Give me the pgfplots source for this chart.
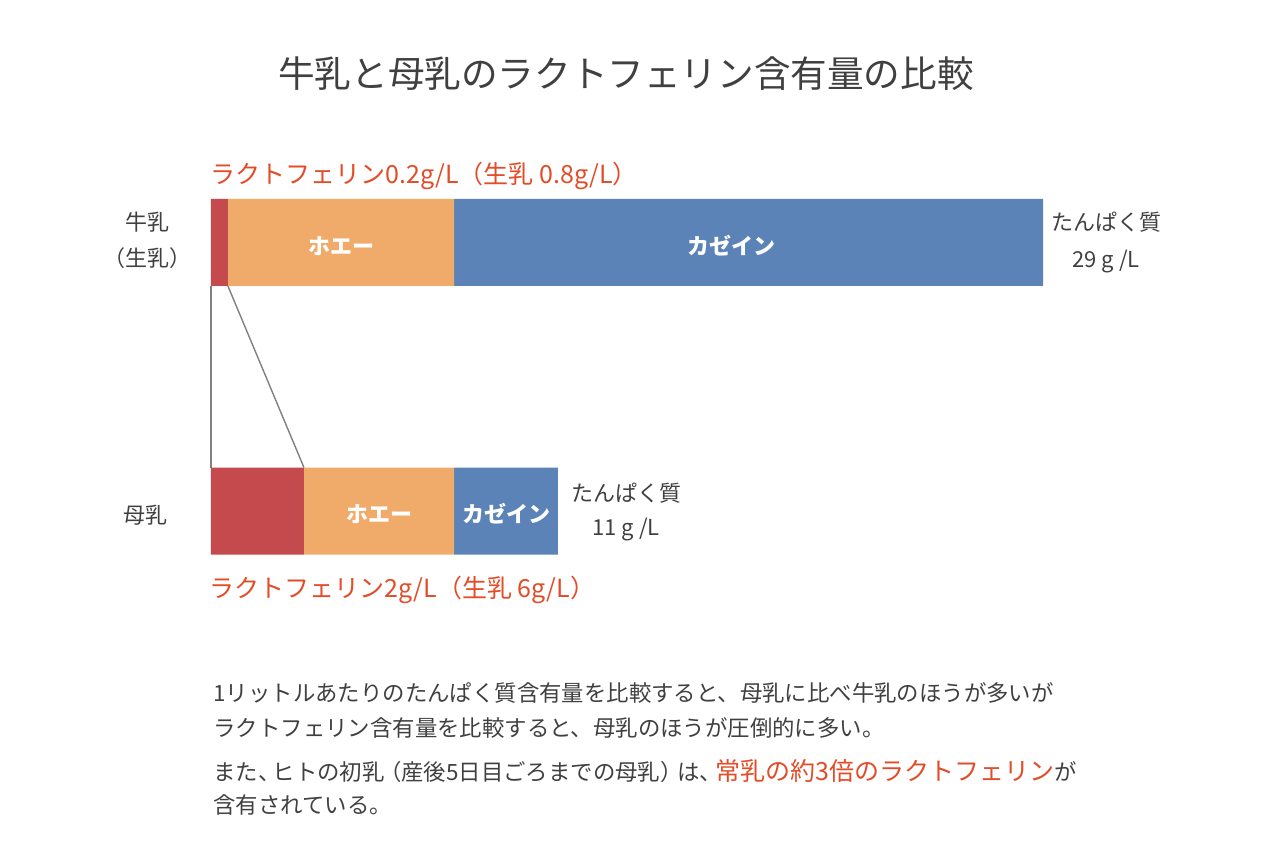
\documentclass[border=0pt]{standalone}
\usepackage{pgfplots}
\pgfplotsset{compat=1.18}
\usepackage{fontspec}
\setmainfont{Noto Sans CJK JP}
\definecolor{lfred}{RGB}{196,74,78}
\definecolor{whey}{RGB}{240,170,106}
\definecolor{casein}{RGB}{91,131,183}
\definecolor{txt}{RGB}{64,64,64}
\definecolor{hl}{RGB}{226,76,40}
\begin{document}
\begin{tikzpicture}
% page = 1280x860 px, 1 px = 0.5pt, axis origin at px (211,554)
\useasboundingbox (-105.5pt,-153pt) rectangle (534.5pt,277pt);
\begin{axis}[
  at={(0,0)}, anchor=south west,
  scale only axis, width=416pt, height=177.5pt,
  xmin=0, xmax=29, ymin=-0.162, ymax=1.160,
  y dir=reverse, hide axis, clip=false,
  xbar stacked, bar width=43.5pt,
]
\addplot[fill=lfred, draw=none] coordinates {(0.59,0) (3.24,1)};
\addplot[fill=whey, draw=none] coordinates {(7.88,0) (5.23,1)};
\addplot[fill=casein, draw=none] coordinates {(20.53,0) (3.62,1)};
\draw[gray, line width=0.7pt] (axis cs:0,0.162) -- (axis cs:0,0.838);
\draw[gray, line width=0.7pt] (axis cs:0.59,0.162) -- (axis cs:3.24,0.838);
\end{axis}
\begin{scope}[x=0.5pt, y=-0.5pt, shift={(-105.5pt,277pt)}]
\begin{scope}[every node/.style={white, font=\fontsize{11}{13}\selectfont\bfseries}]
\node at (341,246) {ホエー};
\node at (731,246) {カゼイン};
\node at (379,514) {ホエー};
\node at (506,514) {カゼイン};
\end{scope}
\node[txt, font=\fontsize{18.3}{22}\selectfont] at (626,74) {牛乳と母乳のラクトフェリン含有量の比較};
\node[hl, anchor=west, font=\fontsize{12.5}{15}\selectfont, inner sep=0] at (210,176) {ラクトフェリン0.2g/L（生乳 0.8g/L）};
\node[hl, anchor=west, font=\fontsize{12.5}{15}\selectfont, inner sep=0] at (209,590) {ラクトフェリン2g/L（生乳 6g/L）};
\node[txt, font=\fontsize{11}{13}\selectfont] at (148,222) {牛乳};
\node[txt, font=\fontsize{11}{13}\selectfont] at (148,258) {（生乳）};
\node[txt, font=\fontsize{11}{13}\selectfont] at (146,515) {母乳};
\node[txt, font=\fontsize{11}{13}\selectfont] at (1106,222) {たんぱく質};
\node[txt, font=\fontsize{11}{13}\selectfont] at (1106,262) {29 g /L};
\node[txt, font=\fontsize{11}{13}\selectfont] at (626,493) {たんぱく質};
\node[txt, font=\fontsize{11}{13}\selectfont] at (626,530) {11 g /L};
\begin{scope}[every node/.style={txt, anchor=west, inner sep=0, font=\fontsize{11.2}{13}\selectfont}]
\node at (213,693) {1リットルあたりのたんぱく質含有量を比較すると、母乳に比べ牛乳のほうが多いが};
\node at (213,728) {ラクトフェリン含有量を比較すると、母乳のほうが圧倒的に多い。};
\node at (213,771) {また、\kern-0.35em ヒトの初乳\kern-0.25em（産後5日目ごろまでの母乳）\kern-0.25em は、\kern-0.3em{\color{hl}\fontsize{12.5}{15}\selectfont 常乳の約3倍のラクトフェリン}が};
\node at (213,805) {含有されている。};
\end{scope}
\end{scope}
\end{tikzpicture}
\end{document}
